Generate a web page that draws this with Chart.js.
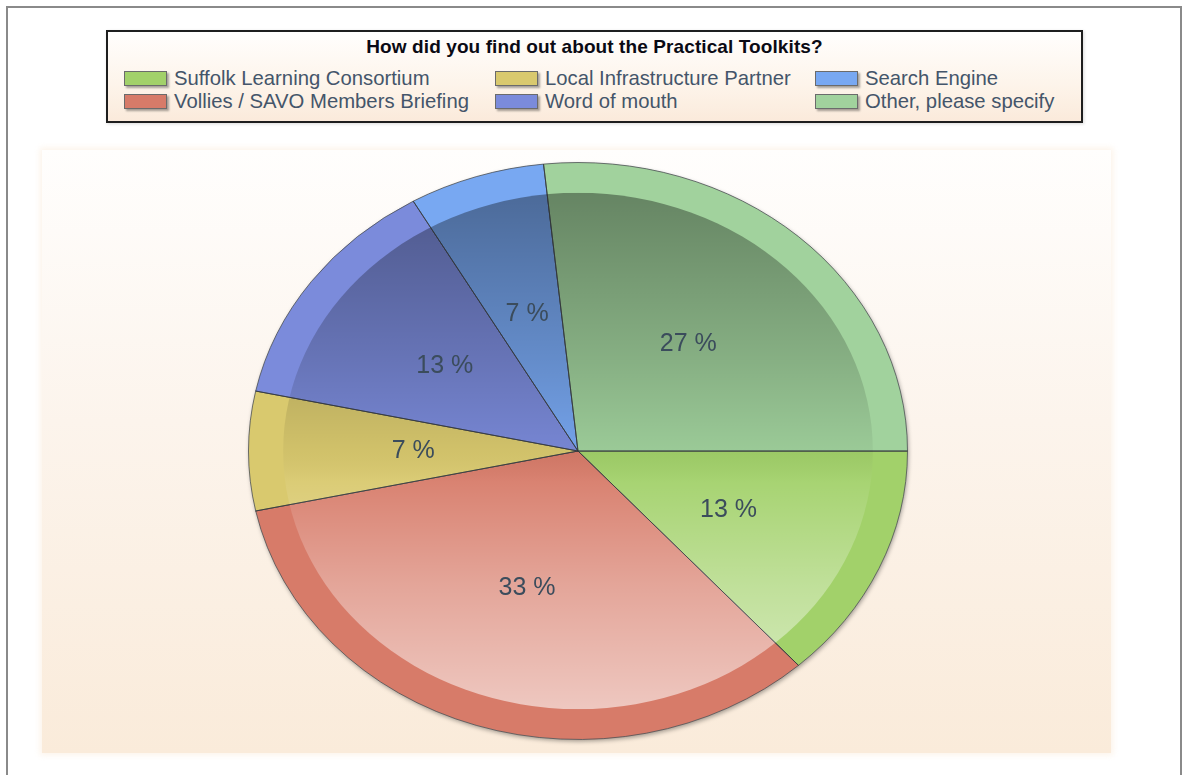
<!DOCTYPE html>
<html>
<head>
<meta charset="utf-8">
<script src="https://cdn.jsdelivr.net/npm/chart.js@4/dist/chart.umd.min.js"></script>
<style>
  html, body { margin:0; padding:0; width:1188px; height:775px; overflow:hidden; background:#fff; }
  #frame { position:absolute; left:6px; top:6px; width:1176px; height:800px; border:2px solid #8a8a8a; border-bottom:none; box-sizing:border-box; }
  #plotbg { position:absolute; left:42px; top:150px; width:1069px; height:603px;
    background:linear-gradient(to bottom, #fffefd 0%, #fcf4ec 45%, #faebda 100%);
    box-shadow:0 0 6px 2px rgba(250,235,218,0.6); }
  #legend { position:absolute; left:106px; top:30px; width:977px; height:93px; box-sizing:border-box;
    border:2px solid #1e1e1e; background:linear-gradient(to bottom, #fffefd 0%, #fdf4ea 60%, #fbeadb 100%);
    box-shadow:1px 1px 3px rgba(0,0,0,0.15); font-family:"Liberation Sans", Arial, sans-serif; }
  #legend .title { position:absolute; left:0; right:0; top:4px; text-align:center; font-weight:bold; font-size:19px; color:#0a0a14; letter-spacing:0.1px; }
  #legend .items { position:absolute; left:16px; top:35px; display:grid; grid-template-columns:371px 320px 260px; grid-auto-rows:23px; grid-auto-flow:column; grid-template-rows:23px 23px; }
  #legend .item { display:flex; align-items:center; font-size:20.3px; color:#44556a; white-space:nowrap; }
  #legend .sw { width:41px; height:13px; border:1px solid #6b6b6b; margin-right:7px; box-shadow:2px 2px 2px rgba(0,0,0,0.35); }
  #c { position:absolute; left:0; top:0; }
</style>
</head>
<body>
<div id="frame"></div>
<div id="plotbg"></div>
<div id="legend"><div class="title" id="ltitle"></div><div class="items" id="litems"></div></div>
<canvas id="c" width="1188" height="800"></canvas>
<script>
const title = "How did you find out about the Practical Toolkits?";
const categories = ["Suffolk Learning Consortium", "Vollies / SAVO Members Briefing", "Local Infrastructure Partner", "Word of mouth", "Search Engine", "Other, please specify"];
const responses = [2, 5, 1, 2, 1, 4];
const percentLabels = ["13 %", "33 %", "7 %", "13 %", "7 %", "27 %"];
const colors = ["#a2d16a", "#d77b69", "#d9c96e", "#7b8bdb", "#78a8f2", "#a1d29d"];

// legend (HTML)
document.getElementById('ltitle').textContent = title;
const li = document.getElementById('litems');
categories.forEach((c, i) => {
  const d = document.createElement('div'); d.className = 'item';
  const s = document.createElement('span'); s.className = 'sw';
  s.style.background = colors[i];
  const t = document.createElement('span'); t.textContent = c;
  d.appendChild(s); d.appendChild(t); li.appendChild(d);
});

const SY = 0.8755;     // vertical squash of the pie (ellipse)
const INNER = 0.895;   // glossy inner ellipse ratio

const ellipsePlugin = {
  id: 'ellipse',
  beforeDatasetsDraw(chart) {
    const arc = chart.getDatasetMeta(0).data[0];
    const ctx = chart.ctx;
    ctx.save();
    ctx.translate(arc.x, arc.y);
    ctx.scale(1, SY);
    ctx.translate(-arc.x, -arc.y);
    ctx.save();
    ctx.shadowColor = 'rgba(0,0,0,0.35)';
    ctx.shadowBlur = 4;
    ctx.shadowOffsetX = 1;
    ctx.shadowOffsetY = 2;
    ctx.beginPath();
    ctx.arc(arc.x, arc.y, arc.outerRadius, 0, Math.PI * 2);
    ctx.fillStyle = '#c9c0b0';
    ctx.fill();
    ctx.restore();
  },
  afterDatasetsDraw(chart) {
    const meta = chart.getDatasetMeta(0);
    const a0 = meta.data[0];
    const ctx = chart.ctx;
    const cx = a0.x, cy = a0.y, R = a0.outerRadius, r = R * INNER;
    ctx.save();
    ctx.beginPath();
    ctx.arc(cx, cy, r, 0, Math.PI * 2);
    ctx.clip();
    const g = ctx.createLinearGradient(0, cy - r, 0, cy + r);
    g.addColorStop(0, 'rgba(0,0,0,0.37)');
    g.addColorStop(0.33, 'rgba(0,0,0,0.16)');
    g.addColorStop(0.5, 'rgba(0,0,0,0.04)');
    g.addColorStop(0.56, 'rgba(255,255,255,0.06)');
    g.addColorStop(0.76, 'rgba(255,255,255,0.32)');
    g.addColorStop(1, 'rgba(255,255,255,0.58)');
    ctx.fillStyle = g;
    ctx.fillRect(cx - r, cy - r, 2 * r, 2 * r);
    ctx.restore();
    ctx.save();
    ctx.strokeStyle = 'rgba(45,50,55,0.75)';
    ctx.lineWidth = 1;
    meta.data.forEach(el => {
      ctx.beginPath();
      ctx.moveTo(cx, cy);
      ctx.lineTo(cx + Math.cos(el.startAngle) * R, cy + Math.sin(el.startAngle) * R);
      ctx.stroke();
    });
    ctx.restore();
    ctx.restore();
    ctx.save();
    ctx.font = '25px "Liberation Sans", Arial, sans-serif';
    ctx.fillStyle = '#3b4c5c';
    ctx.textAlign = 'center';
    ctx.textBaseline = 'middle';
    meta.data.forEach((el, i) => {
      const mid = (el.startAngle + el.endAngle) / 2;
      const x = cx + Math.cos(mid) * R * 0.5;
      const y = cy + Math.sin(mid) * R * 0.5 * SY;
      ctx.fillText(percentLabels[i], x, y);
    });
    ctx.restore();
  }
};

new Chart(document.getElementById('c'), {
  type: 'pie',
  data: {
    labels: categories,
    datasets: [{
      data: responses,
      backgroundColor: colors,
      borderColor: 'rgba(70,75,80,0.8)',
      borderWidth: 1
    }]
  },
  options: {
    responsive: false,
    animation: false,
    rotation: 90,
    layout: { padding: { left: 248, right: 280, top: 121, bottom: 19 } },
    plugins: { legend: { display: false }, tooltip: { enabled: false }, title: { display: false } },
    events: []
  },
  plugins: [ellipsePlugin]
});
</script>
</body>
</html>
